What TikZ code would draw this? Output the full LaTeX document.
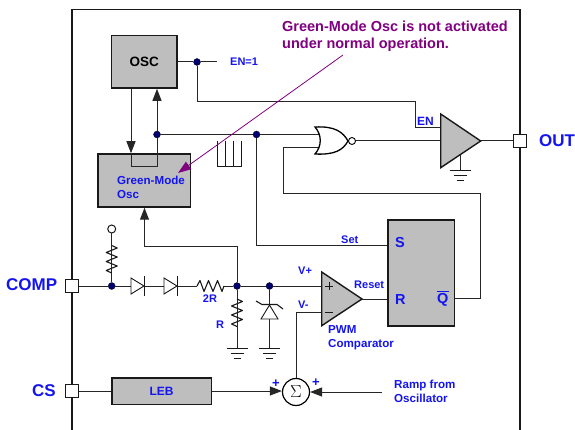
\documentclass[tikz,border=0pt]{standalone}
\usepackage{fontspec}
\setmainfont{Liberation Sans}
\usetikzlibrary{arrows.meta,calc}
\definecolor{lblue}{HTML}{1414F0}
\definecolor{lpurple}{HTML}{800080}
\definecolor{lnavy}{HTML}{000070}
\definecolor{lgray}{HTML}{BEBEBE}
\newcommand{\fs}[2]{\fontsize{#1}{#2}\selectfont\bfseries}
\tikzset{
  x=1pt,y=-1pt,
  wire/.style={line width=1pt,black!85},
  arr/.style={wire,-{Triangle[length=12pt,width=9pt]}},
  graybox/.style={draw=black!90,line width=1.5pt,fill=lgray,inner sep=0pt,font=\fs{13.5}{14}},
  pinbox/.style={draw=black!90,line width=1pt,fill=white,minimum size=13pt,inner sep=0pt},
  dot/.style={circle,fill=lnavy,draw=black,line width=.3pt,minimum size=7pt,inner sep=0pt},
  lab/.style={text=lblue,inner sep=0pt,font=\fs{11}{14}},
  labl/.style={lab,anchor=west,align=left},
  big/.style={font=\fs{14.5}{15}},
  two/.style={font=\fs{11.6}{14}},
  pinlab/.style={text=lblue,inner sep=0pt,font=\fs{17}{17}},
  note/.style={anchor=west,text=lpurple,inner sep=0pt,font=\fs{14.5}{15}},
  ampl/.style={draw=black!90,line width=1.4pt,fill=lgray,line join=miter},
  gnd/.pic={\draw[line width=1pt,black!90] (-10.5,0)--(10.5,0) (-6.5,5)--(6.5,5) (-3.5,10)--(3.5,10);},
  vres/.pic={\draw[line width=1.1pt,black!90,line join=round] (0,0)--(5.5,2.5)--(-5.5,7)--(5.5,11.5)--(-5.5,16)--(5.5,20.5)--(-5.5,25)--(0,27.5);},
  hres/.pic={\draw[line width=1.1pt,black!90,line join=round] (0,0)--(3,-5.5)--(7,5.5)--(11.5,-5.5)--(16,5.5)--(20.5,-5.5)--(25,5.5)--(27,0);},
  hdiode/.pic={\draw[line width=.9pt,black!90,fill=white] (0,-8)--(13,0)--(0,8)--cycle; \draw[line width=1.3pt,black!90] (13.5,-10)--(13.5,10);},
}
\begin{document}
\begin{tikzpicture}
\useasboundingbox (0,0) rectangle (575,430);
% frame
\draw[line width=1.3pt,black!90] (72,430)--(72,9.5)--(520,9.5)--(520,430);

% junctions
\coordinate (jenin) at (415,128);
\coordinate (jen2) at (415,102);
\coordinate (jen1) at (197,102);
\coordinate (enend) at (217,62);
\coordinate (loopa) at (131,167);
\coordinate (loopb) at (157,167);
\coordinate (norA) at (319,134.5);
\coordinate (norB) at (319,147.3);
\coordinate (fb1) at (283,147.3);
\coordinate (fb2) at (283,193.5);
\coordinate (fb3) at (480.5,193.5);
\coordinate (fb4) at (480.5,298.5);
\coordinate (setc) at (256.5,246);
\coordinate (upA) at (237,246.5);
\coordinate (upB) at (144.5,246.5);
\coordinate (vminus) at (296,312);
\coordinate (vplus) at (322,286);
\coordinate (ramp) at (382,392);
\coordinate (gndR) at (237,348);
\coordinate (gndZ) at (269.5,348);
\coordinate (gndO) at (460,170.5);

% boxes
\node[graybox,minimum width=65.5pt,minimum height=52.5pt] (osc) at (144.2,61.8) {OSC};
\node[graybox,minimum width=92.5pt,minimum height=53pt] (green) at (144.2,180.5) {};
\node[graybox,minimum width=99.5pt,minimum height=26.5pt] (leb) at (161.5,391) {\textcolor{lblue}{\fs{12}{14}LEB}};
\node[graybox,minimum width=66.5pt,minimum height=105.5pt] (sr) at (421,273) {};

% wires between blocks
\node[dot] (dosc) at (197,62) {};
\node[dot] (dfb) at (157,134.5) {};
\node[dot] (dset) at (256.5,134.5) {};
\node[dot] (dcomp) at (111.7,286) {};
\node[dot] (dmid) at (237,286) {};
\node[dot] (dz) at (269.5,286) {};
\node[pinbox] (pout) at (519.5,141) {};
\node[pinbox] (pcomp) at (72,286) {};
\node[pinbox] (pcs) at (72,391) {};
\node[circle,draw=black!90,line width=1pt,fill=white,minimum size=8pt,inner sep=0pt] (vcc) at (111.7,229) {};
\node[circle,draw=black,line width=1.2pt,fill=white,minimum size=27pt,inner sep=0pt,font=\fontsize{18}{18}\selectfont] (sum) at (296,392) {$\Sigma$};

\draw[wire] (osc.east |- dosc) -- (dosc) -- (enend);
\draw[wire] (dosc) -- (jen1) -- (jen2) -- (jenin) -- (441,128);
\draw[arr] (osc.south -| loopa) -- (green.north -| loopa);
\draw[wire] (green.north -| loopa) -- (loopa) -- (loopb) -- (dfb);
\draw[arr] (dfb) -- (osc.south -| dfb);
\draw[wire] (dfb) -- (dset) -- (norA);
\draw[wire] (dset) -- (setc) -- (sr.west |- setc);
\draw[wire] (norB) -- (fb1) -- (fb2) -- (fb3) -- (fb4) -- (sr.east |- fb4);
\draw[arr] (upA) -- (upB) -- (green.south -| upB);
\draw[wire] (dmid) -- (upA);
\draw[wire] (pcomp) -- (dcomp) -- (dmid) -- (dz) -- (vplus);
\draw[wire] (dcomp) -- (vcc);
\draw[wire] (dmid) -- (gndR);
\draw[wire] (dz) -- (gndZ);
\draw[wire] (pcs) -- (leb);
\draw[arr] (leb) -- (sum.west |- leb);
\draw[arr] (ramp) -- (sum.east);
\draw[wire] (sum.north) -- (vminus) -- (322,312);
\draw[wire] (362,299) -- (sr.west |- 0,299);
\draw[wire] (481,141) -- (pout);
\draw[wire] (355.5,141) -- (441,141);
\draw[wire] (460,155) -- (gndO);

% pulse train
\draw[line width=1pt,black!90] (217,141)--(217,167)--(241,167)--(241,141) (225,141)--(225,167) (233,141)--(233,167);

% NOR gate
\draw[line width=1.3pt,black,fill=white] (315,127) .. controls (335,126) and (343,132) .. (348,141) .. controls (343,150) and (335,155) .. (315,154) .. controls (322,146) and (322,135) .. (315,127) -- cycle;
\node[circle,draw=black,line width=.9pt,fill=white,minimum size=7pt,inner sep=0pt] (bub) at (352,141) {};

% amplifiers
\draw[ampl] (440.7,114)--(480.7,141)--(440.7,167.7)--cycle;
\draw[ampl] (321.7,272)--(362,299)--(321.7,325.7)--cycle;
\draw[line width=.8pt,black!90] (325,286)--(333,286) (329,282)--(329,290) (325,312)--(333,312);

% passive parts
\pic at (111.7,245.5) {vres};
\pic at (237,299) {vres};
\pic at (131,286) {hdiode};
\pic at (164,286) {hdiode};
\draw[white,line width=2pt] (197,286)--(224,286);
\pic at (197,286) {hres};
\draw[line width=.9pt,black!90,fill=white] (261,319)--(269.5,305)--(278,319)--cycle;
\draw[line width=1.1pt,black!90] (256,301)--(262,304.5)--(277,304.5)--(283,309);
\pic at (gndR) {gnd};
\pic at (gndZ) {gnd};
\pic at (gndO) {gnd};

% purple annotation
\coordinate (noteA) at (343,55);
\coordinate (noteB) at (178,173);
\draw[line width=.8pt,lpurple,-{Triangle[length=13pt,width=9pt]}] (noteA) -- (noteB);
\node[note] (note1) at (282,26) {Green-Mode Osc is not activated};
\node[note] (note2) at (282,44.5) {under normal operation.};

% labels
\node[labl,two] (tg) at (117,187) {Green-Mode\\Osc};
\node[labl] (ten1) at (230,62) {EN=1};
\node[labl,font=\fs{12}{14}] (ten) at (417,121) {EN};
\node[labl] (tset) at (341,240) {Set};
\node[labl] (tvp) at (298,271) {V+};
\node[labl] (tvm) at (298,305) {V-};
\node[labl] (treset) at (354,285) {Reset};
\node[labl,big] (ts) at (395,243) {S};
\node[labl,big] (tr) at (395,300) {R};
\node[labl,big] (tq) at (437,299.5) {Q};
\draw[line width=1pt,lblue] (tq.north west)++(0,-1) -- ++(11.5,0);
\node[labl,two] (tpwm) at (328,338) {PWM\\Comparator};
\node[labl,two] (tramp) at (394,391) {Ramp from\\Oscillator};
\node[lab,font=\fs{13}{14}] (tp1) at (276,384) {+};
\node[lab,font=\fs{13}{14}] (tp2) at (316,383) {+};
\node[lab] (t2r) at (210,299) {2R};
\node[lab] (tr2) at (220,325) {R};
\node[pinlab,anchor=west] (tcomp) at (6,285) {COMP};
\node[pinlab,anchor=west] (tcs) at (32,391) {CS};
\node[pinlab,anchor=west] (tout) at (539,141) {OUT};
\end{tikzpicture}
\end{document}
